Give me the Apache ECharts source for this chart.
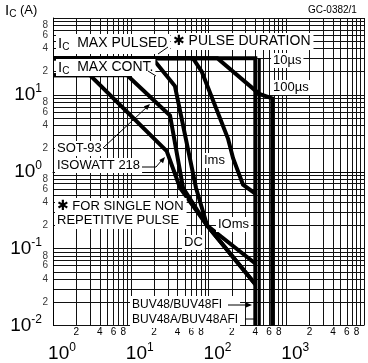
<!DOCTYPE html>
<html>
<head>
<meta charset="utf-8">
<script src="https://cdn.jsdelivr.net/npm/echarts@6/dist/echarts.min.js"></script>
<style>
html,body{margin:0;padding:0;background:#fff}
#chart{width:368px;height:363px}
</style>
</head>
<body>
<div id="chart"></div>
<script>
// VCE (V) / IC (A) points of each limit curve
const vce10us = [1, 400, 400];
const ic10us = [30, 30, 0.01];
const vce100us = [1, 130, 450, 660, 660];
const ic100us = [30, 30, 10.3, 9, 0.01];
const vce1ms = [1, 63, 82, 178, 207, 278, 400];
const ic1ms = [30, 30, 20, 2.7, 1.5, 0.68, 0.52];
const vce10ms = [1, 19, 37, 69, 96, 400];
const ic10ms = [30, 30, 13, 0.62, 0.2, 0.064];
const vceDcSot = [1, 9, 32, 47, 96, 400];
const icDcSot = [18, 18, 5.4, 0.62, 0.2, 0.0345];
const vceDcIso = [1, 3, 29, 43, 96, 400];
const icDcIso = [18, 18, 1.86, 0.62, 0.2, 0.0345];
const vce450 = [450, 450];
const ic450 = [30, 0.01];

// axes
const xDecades = [0, 1, 2, 3];      // 10^0 .. 10^3 labelled
const yDecades = [-2, -1, 0, 1];    // 10^-2 .. 10^1 labelled
const minorDigits = [2, 4, 6, 8];
const xRange = [0, 4];
const yRange = [-2, 2];

const FONT = 'Liberation Sans, Arial, sans-serif';

function gridValues(r) {
    const out = [];
    for (let d = r[0]; d < r[1]; d++) {
        for (let k = 1; k <= 9; k++) out.push(d + Math.log10(k));
    }
    out.push(r[1]);
    return out;
}
function minorValues(r) {
    const out = [];
    for (let d = r[0]; d < r[1]; d++) {
        minorDigits.forEach(k => out.push(d + Math.log10(k)));
    }
    return out;
}
const minorFmt = v => String(Math.round(Math.pow(10, v - Math.floor(v + 1e-9))));
const decadeFmt = v => '{b|10}{s|' + Math.round(v) + '}';

function toLog(vs, is) {
    return vs.map((v, i) => [Math.log10(v), Math.log10(is[i])]);
}

function curve(name, vs, is, w) {
    return {
        name: name, type: 'line', data: toLog(vs, is),
        symbol: 'none', smooth: false, animation: false,
        lineStyle: { color: '#000', width: w || 4, join: 'miter' }, z: 5
    };
}

const decadeRich = {
    b: { fontSize: 19, fontFamily: FONT, color: '#000' },
    s: { fontSize: 12, fontFamily: FONT, color: '#000', padding: [0, 0, 12, 0] }
};

// minor y labels (2 4 6 8) placed at the left edge through the y scale
const yMinorLabels = {
    name: 'yMinor', type: 'scatter', symbolSize: 0, clip: false, silent: true,
    data: minorValues(yRange).map(v => [xRange[0], v]),
    label: {
        show: true, position: 'left', distance: 5,
        formatter: p => minorFmt(p.value[1]),
        fontSize: 10, fontFamily: FONT, color: '#000'
    },
    labelLayout: { hideOverlap: false }
};

const option = {
    backgroundColor: '#fff',
    animation: false,
    grid: { left: 53, right: 4, top: 18, bottom: 33 },
    xAxis: [{
        type: 'value', min: xRange[0], max: xRange[1],
        axisLine: { show: true, lineStyle: { color: '#000', width: 1 } },
        axisTick: { show: false, customValues: gridValues(xRange) },
        splitLine: { show: true, lineStyle: { color: '#111', width: 1 } },
        axisLabel: {
            customValues: minorValues(xRange), formatter: minorFmt,
            margin: 3, fontSize: 10, lineHeight: 8, fontFamily: FONT, color: '#000',
            hideOverlap: false, showMinLabel: true, showMaxLabel: true
        }
    }, {
        type: 'value', min: xRange[0], max: xRange[1], position: 'bottom',
        axisLine: { show: false }, axisTick: { show: false }, splitLine: { show: false },
        axisLabel: {
            customValues: xDecades, formatter: decadeFmt, margin: 16,
            rich: decadeRich, padding: [0, 0, 0, 18]
        }
    }],
    yAxis: [{
        type: 'value', min: yRange[0], max: yRange[1],
        axisLine: { show: true, lineStyle: { color: '#000', width: 1 } },
        axisTick: { show: false, customValues: gridValues(yRange) },
        splitLine: { show: true, lineStyle: { color: '#111', width: 1 } },
        axisLabel: { show: false }
    }, {
        type: 'value', min: yRange[0], max: yRange[1], position: 'left',
        axisLine: { show: false }, axisTick: { show: false }, splitLine: { show: false },
        axisLabel: {
            customValues: yDecades, formatter: decadeFmt, margin: 11, rich: decadeRich
        }
    }],
    series: [
        curve('10us', vce10us, ic10us),
        curve('100us', vce100us, ic100us),
        curve('1ms', vce1ms, ic1ms),
        curve('10ms', vce10ms, ic10ms),
        curve('DC SOT-93', vceDcSot, icDcSot),
        curve('DC ISOWATT218', vceDcIso, icDcIso),
        curve('450V', vce450, ic450, 3),
        yMinorLabels
    ],
    graphic: []
};

function label(x, y, text, size, rich, extra) {
    const style = Object.assign({
        x: x, y: y, text: text, fill: '#000',
        font: size + 'px ' + FONT, align: 'left', verticalAlign: 'top',
        backgroundColor: '#fff', padding: [1, 2, 1, 2]
    }, extra || {});
    if (rich) style.rich = rich;
    return { type: 'text', z: 100, style: style };
}
const subRich = {
    i: { fontSize: 15, fontFamily: FONT },
    c: { fontSize: 10, fontFamily: FONT, padding: [7, 0, 0, 0] }
};
const starRich = {
    st: { fontSize: 14, fontFamily: 'DejaVu Sans', fontWeight: 'bold' }
};
function seg(pts, w) {
    return { type: 'polyline', z: 101, shape: { points: pts }, style: { stroke: '#000', lineWidth: w || 1, fill: null } };
}
function head(x, y, ang) {
    const a = ang * Math.PI / 180, L = 6, W = 2.5;
    const bx = x - L * Math.cos(a), by = y - L * Math.sin(a);
    const px = -Math.sin(a) * W, py = Math.cos(a) * W;
    return { type: 'polygon', z: 101, shape: { points: [[x, y], [bx + px, by + py], [bx - px, by - py]] }, style: { fill: '#000' } };
}

option.graphic = [
    label(3, 1, '{i|I}{c|C} (A)', 13, subRich, { backgroundColor: null }),
    label(306, 4, 'GC-0382/1', 10, null, { backgroundColor: null }),
    label(56, 34, '{i|I}{c|C}  MAX PULSED', 14, subRich, { padding: [1, 3, 2, 2] }),
    label(171, 33, '{st|✱} PULSE DURATION', 14, starRich, { padding: [1, 3, 2, 2] }),
    label(56, 59, '{i|I}{c|C}  MAX CONT.', 14, subRich, { padding: [0, 2, 0, 2] }),
    label(271, 53, '10µs', 13),
    label(271, 80, '100µs', 13),
    label(55, 141, 'SOT-93', 13),
    label(55, 158, 'ISOWATT 218', 13),
    label(202, 153, 'Ims', 13),
    label(55, 198, '{st|✱} FOR SINGLE NON\nREPETITIVE PULSE', 13, starRich, { lineHeight: 14, padding: [1, 3, 2, 2] }),
    label(216, 217, 'IOms', 13),
    label(182, 235, 'DC', 13),
    label(130, 296, 'BUV48/BUV48FI\nBUV48A/BUV48AFI', 12, null, { lineHeight: 15, padding: [1, 2, 1, 2] }),
    seg([[158, 54], [168, 47]]),
    seg([[148, 71], [156, 76]]),
    seg([[103, 148], [148, 106]]),
    head(150, 104, -43),
    seg([[142, 167], [156, 167], [162, 160]]),
    head(165, 157, -50),
    seg([[228, 305], [247, 305]]),
    head(252, 305, 0),
    seg([[245, 319], [254, 319]])
];

const chart = echarts.init(document.getElementById('chart'), null, { renderer: 'canvas' });
chart.setOption(option);
</script>
</body>
</html>
